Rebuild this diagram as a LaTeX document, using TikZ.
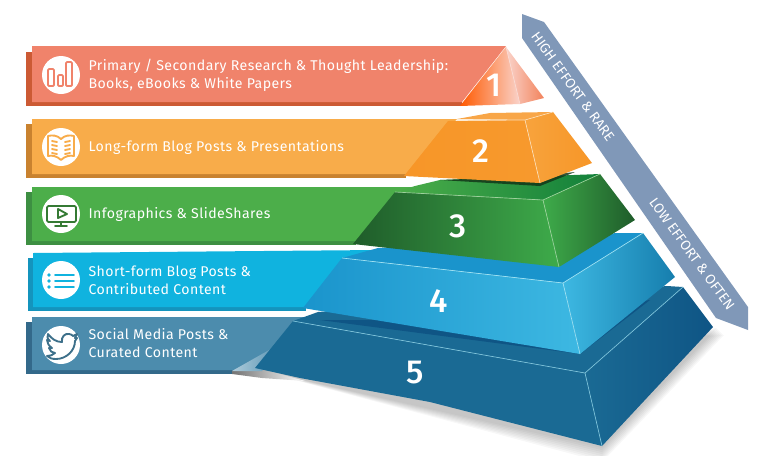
\documentclass[tikz,border=0pt]{standalone}
\usepackage{fontspec}
\setmainfont{Fira Sans}
\newfontfamily\bandfont[LetterSpace=3]{Fira Sans}
\newfontfamily\numfont{Fira Sans Medium}
\usetikzlibrary{positioning}

\definecolor{redband}{HTML}{F0836B}
\definecolor{redback}{HTML}{CC5A34}
\definecolor{orangeband}{HTML}{F8AC4A}
\definecolor{orangeback}{HTML}{C9822F}
\definecolor{orangeface}{HTML}{F79628}
\definecolor{greenband}{HTML}{4CAE4A}
\definecolor{greenback}{HTML}{3D8F42}
\definecolor{greendark}{HTML}{1F5C2A}
\definecolor{greenmid}{HTML}{12803A}
\definecolor{greenlight}{HTML}{3EAB4A}
\definecolor{cyanband}{HTML}{10B3DF}
\definecolor{cyanback}{HTML}{1494BD}
\definecolor{cyanleft}{HTML}{1A94CC}
\definecolor{cyanlight}{HTML}{3DB8E2}
\definecolor{steelband}{HTML}{4C8CAD}
\definecolor{steelback}{HTML}{33698A}
\definecolor{baseface}{HTML}{1A6A94}
\definecolor{basedark}{HTML}{0F5585}
\definecolor{ribbon}{HTML}{8098B8}

\tikzset{
  icon/.style={circle, fill=white, minimum size=28.5pt, inner sep=0pt},
  bandlabel/.style={right=6pt of #1, inner sep=0pt, align=left, text=white,
    font=\bandfont\fontsize{10.6}{13.6}\selectfont},
  tiernum/.style={text=white, inner sep=0pt, font=\numfont\fontsize{25}{25}\selectfont},
  ribbonlabel/.style={text=white, inner sep=0pt, rotate=-54,
    font=\fontsize{10.4}{12}\selectfont},
  ridge/.style={line width=0.5pt},
  stroke/.style={line width=1.4pt, line join=round, line cap=round}
}

\begin{document}
\begin{tikzpicture}[x=0.75pt, y=-0.75pt]
  \useasboundingbox (0,0) rectangle (758,455);

  % ribbon at the right
  \fill[ribbon] (522,14) -- (544,22) -- (748,307) -- (748,330) -- (716,318) -- (522,38) -- cycle;
  \node (high) [ribbonlabel] at (573,87) {HIGH EFFORT \& RARE};
  \node (low) [ribbonlabel] at (692,254) {LOW EFFORT \& OFTEN};

  % soft shadow of the base
  \foreach \d in {2,4,...,16} {
    \fill[black, opacity=0.03] (250,368) -- (602,{446+\d}) -- ({716+\d/2},{327+\d/2}) -- (600,340) -- cycle;
  }

  % bands
  \fill[redback] (26,52) rectangle (462,106);
  \fill[redband] (32,46) -- (506,46) -- (462,102) -- (32,102) -- cycle;
  \fill[orangeback] (26,124) rectangle (406,178);
  \fill[orangeband] (32,119) -- (457,119) -- (406,174) -- (32,174) -- cycle;
  \fill[greenback] (26,192) rectangle (356,245);
  \fill[greenband] (32,187) -- (415,187) -- (356,241) -- (32,241) -- cycle;
  \fill[cyanback] (28,258) rectangle (306,311);
  \fill[cyanband] (33,253) -- (378,250) -- (306,307) -- (33,307) -- cycle;
  \fill[steelback] (26,322) rectangle (258,374);
  \fill[steelband] (32,317) -- (318,317) -- (258,370) -- (32,370) -- cycle;

  % tier 5
  \shade[left color=black!55, right color=white] (232,371) -- (262,369) -- (305,381) -- (262,378) -- (232,374) -- cycle;
  \shade[left color=steelband!45!white, right color=steelband] (232,371) -- (262,371) -- (285,341) -- cycle;
  \fill[baseface] (318,312) -- (667,286) -- (683,287) -- (585,373) -- (293,321) -- cycle;
  \fill[basedark] (320,320) -- (580,354) -- (650,300) -- (500,320) -- cycle;
  \fill[baseface] (293,321) -- (585,373) -- (602,446) -- (430,402) -- (300,378) -- (255,368) -- cycle;
  \shade[left color=baseface, right color=basedark] (585,373) -- (683,287) -- (713,327) -- (602,446) -- cycle;
  \draw[ridge, cyanback!55!white] (293,321) -- (585,373) -- (683,287);
  \draw[ridge, cyanback!55!white] (585,373) -- (602,446);
  \node (five) [tiernum] at (415,373) {5};

  % tier 4
  \fill[cyanleft] (378,248) -- (618,233) -- (643,233) -- (563,283) -- (342,258) -- cycle;
  \shade[left color=cyanleft, middle color=cyanband!80!cyanleft, right color=cyanlight] (342,258) -- (563,283) -- (580,354) -- (303,308) -- cycle;
  \shade[left color=cyanlight, right color=cyanleft!85!black] (563,283) -- (643,233) -- (675,277) -- (580,354) -- cycle;
  \draw[ridge, cyanband!40!white] (342,258) -- (563,283) -- (643,233);
  \draw[ridge, cyanband!40!white] (563,283) -- (580,354);
  \node (four) [tiernum] at (439,301) {4};

  % tier 3
  \shade[left color=greenband, right color=greenmid] (415,186) -- (440,180) -- (600,174) -- (543,200) -- (395,192) -- cycle;
  \shade[left color=greendark, middle color=greenmid, right color=greenlight] (395,192) -- (543,200) -- (559,267) -- (353,244) -- cycle;
  \shade[left color=greenlight, middle color=greenmid, right color=greendark] (543,200) -- (600,174) -- (635,220) -- (559,267) -- cycle;
  \draw[ridge, greenband!55!white] (395,192) -- (543,200) -- (600,174);
  \draw[ridge, greenband!55!white] (543,200) -- (559,267);
  \node (three) [tiernum] at (458,226) {3};

  % tier 2
  \fill[greendark!60!black, opacity=0.85] (440,180) -- (540,186) -- (575,172) -- (540,176) -- cycle;
  \fill[orangeface!85!white] (457,119) -- (490,113) -- (553,112) -- (525,120) -- cycle;
  \shade[left color=orangeface, right color=orangeface!85!orangeband] (448,121) -- (525,120) -- (540,183) -- (404,176) -- cycle;
  \shade[left color=orangeband!60!orangeface, right color=orangeface] (525,120) -- (553,112) -- (592,163) -- (540,183) -- cycle;
  \draw[ridge, orangeband!40!white] (457,120) -- (525,120) -- (553,112);
  \draw[ridge, orangeband!40!white] (525,120) -- (540,183);
  \node (two) [tiernum] at (481,151) {2};

  % tier 1
  \shade[left color=orange!70!red, right color=redband!35!white] (506,47) -- (520,104) -- (460,106) -- cycle;
  \shade[left color=redband!35!white, right color=redband!85!orange] (506,47) -- (544,98) -- (520,104) -- cycle;
  \draw[ridge, white!70!redband] (506,47) -- (520,104);
  \node (one) [tiernum] at (494,85) {1};

  % icons and labels
  \node (bars) [icon] at (61,75) {};
  \node (book) [icon] at (61,147) {};
  \node (screen) [icon] at (61,214) {};
  \node (list) [icon] at (61,280) {};
  \node (bird) [icon] at (61,345) {};

  \node (primary) [bandlabel=bars] {Primary / Secondary Research \& Thought Leadership:\\Books, eBooks \& White Papers};
  \node (longform) [bandlabel=book] {Long-form Blog Posts \& Presentations};
  \node (infographics) [bandlabel=screen] {Infographics \& SlideShares};
  \node (shortform) [bandlabel=list] {Short-form Blog Posts \&\\Contributed Content};
  \node (social) [bandlabel=bird, yshift=1.5pt] {Social Media Posts \&\\Curated Content};

  \begin{scope}[shift={(61,75)}, stroke, draw=redband]
    \draw[rounded corners=0.8pt] (-13,-6) rectangle (-7,11);
    \draw[rounded corners=0.8pt] (-3,0) rectangle (2,11);
    \draw[rounded corners=0.8pt] (5,-13) rectangle (11,11);
  \end{scope}
  \begin{scope}[shift={(61,147)}, stroke, draw=orangeband]
    \draw (0,-8) .. controls (-4,-12) and (-9,-12) .. (-13,-11) -- (-13,9) .. controls (-9,8) and (-4,9) .. (0,13)
      .. controls (4,9) and (9,8) .. (13,9) -- (13,-11) .. controls (9,-12) and (4,-12) .. (0,-8) -- cycle;
    \draw (-9,-6) -- (-4,-5);
    \draw (-9,-2) -- (-4,-1);
    \draw (-9,2) -- (-4,3);
    \draw (-9,6) -- (-4,7);
    \draw (9,-6) -- (4,-5);
    \draw (9,-2) -- (4,-1);
    \draw (9,2) -- (4,3);
    \draw (9,6) -- (4,7);
  \end{scope}
  \begin{scope}[shift={(61,214)}, stroke, draw=greenband!70!black]
    \draw[rounded corners=1pt] (-14,-8) rectangle (15,8);
    \draw (-3,-5) -- (6,0) -- (-3,4) -- cycle;
    \draw (0,8) -- (0,12);
    \draw (-6,12) -- (6,12);
  \end{scope}
  \begin{scope}[shift={(61,280)}, stroke, draw=cyanband]
    \fill[cyanband] (-12,-5) circle (1.8);
    \fill[cyanband] (-12,1) circle (1.8);
    \fill[cyanband] (-12,7) circle (1.8);
    \draw (-6,-5) -- (13,-5);
    \draw (-6,1) -- (13,1);
    \draw (-6,7) -- (13,7);
  \end{scope}
  \begin{scope}[shift={(61,345)}, stroke, draw=steelband!80!black]
    \draw (-13,-11) .. controls (-9,-6) and (-5,-3) .. (1,-3)
      .. controls (0,-8) and (4,-12) .. (8,-11) .. controls (10,-11) and (11,-10) .. (12,-9)
      -- (16,-11) -- (14,-7) -- (16,-7) -- (14,-4)
      .. controls (14,6) and (5,14) .. (-5,14) .. controls (-9,14) and (-12,13) .. (-14,11)
      .. controls (-11,11) and (-8,10) .. (-6,8) .. controls (-9,8) and (-11,6) .. (-12,3)
      -- (-9,3) .. controls (-12,1) and (-14,-2) .. (-14,-5) -- (-11,-4)
      .. controls (-14,-6) and (-14,-9) .. (-13,-11) -- cycle;
  \end{scope}
\end{tikzpicture}
\end{document}
